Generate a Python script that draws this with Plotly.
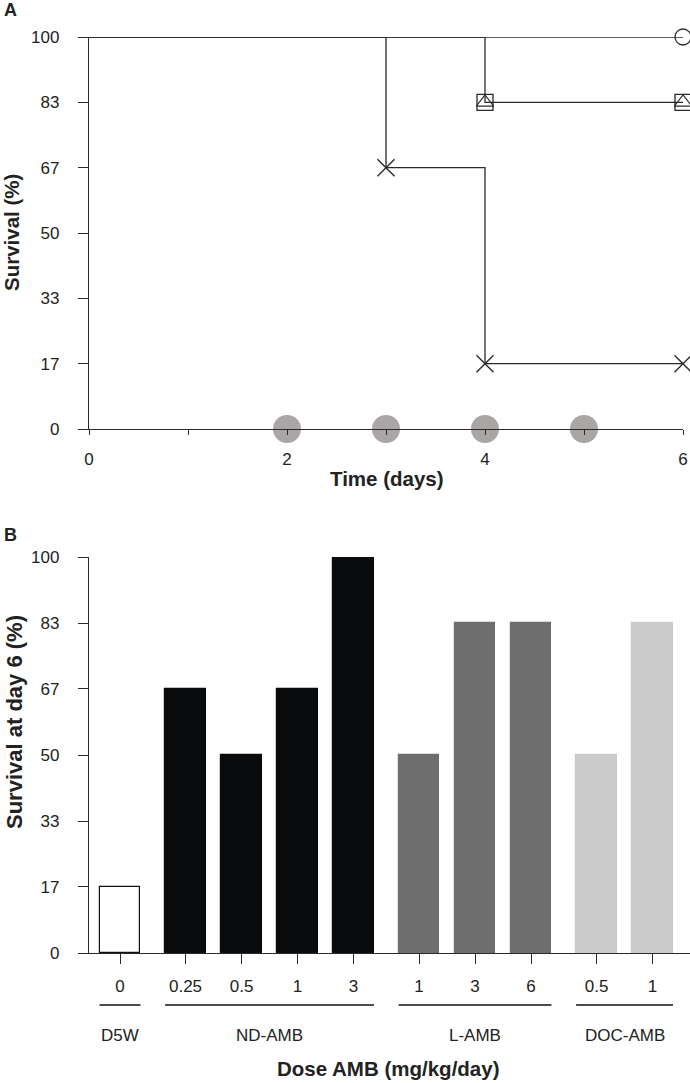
import plotly.graph_objects as go

# ---------------- data ----------------
# Panel A: Kaplan-Meier style survival (%)
days = [0, 1, 2, 3, 4, 5, 6]
surv_circle = [100, 100, 100, 100, 100, 100, 100]
surv_square = [100, 100, 100, 100, 83.33, 83.33, 83.33]
surv_cross = [100, 100, 100, 66.67, 16.67, 16.67, 16.67]
dosing_days = [2, 3, 4, 5]

pct_ticks = [0, 16.67, 33.33, 50, 66.67, 83.33, 100]
pct_labels = ["0", "17", "33", "50", "67", "83", "100"]

# Panel B: survival at day 6 by dose
groups = ["D5W", "ND-AMB", "L-AMB", "DOC-AMB"]
group_doses = [["0"], ["0.25", "0.5", "1", "3"], ["1", "3", "6"], ["0.5", "1"]]
group_survival = [[16.67], [66.67, 50, 66.67, 100], [50, 83.33, 83.33], [50, 83.33]]
group_colors = ["#ffffff", "#0a0b0d", "#6e6e6e", "#cbcbcb"]

# ---------------- layout helpers ----------------
W, H = 690, 1083
FONT = "Liberation Sans, Arial, Helvetica, sans-serif"
LINE = "#2a2a2a"


def px_x(p):
    return p / W


def px_y(p):
    return 1 - p / H


fig = go.Figure()

# ---------------- panel A ----------------
for surv in [surv_circle, surv_square, surv_cross]:
    fig.add_trace(go.Scatter(x=days, y=surv, mode="lines", line_shape="hv",
                             line=dict(color=LINE, width=1.3),
                             xaxis="x", yaxis="y", showlegend=False,
                             hoverinfo="skip"))


def event_points(surv):
    xs, ys = [], []
    for i in range(1, len(surv)):
        if surv[i] != surv[i - 1] or i == len(surv) - 1:
            xs.append(days[i])
            ys.append(surv[i])
    return xs, ys


# dosing markers
fig.add_trace(go.Scatter(x=dosing_days, y=[0] * len(dosing_days), mode="markers",
                         marker=dict(size=28, color="#aaa6a6", line=dict(width=0)),
                         xaxis="x", yaxis="y", showlegend=False, cliponaxis=False))


def open_marker(xs, ys, symbol, size, width):
    return go.Scatter(x=xs, y=ys, mode="markers",
                      marker=dict(symbol=symbol, size=size, color=LINE,
                                  line=dict(color=LINE, width=width)),
                      xaxis="x", yaxis="y", showlegend=False, cliponaxis=False)


cx, cy = event_points(surv_circle)
fig.add_trace(open_marker(cx, cy, "circle-open", 16, 1.3))
sx, sy = event_points(surv_square)
fig.add_trace(open_marker(sx, sy, "square-open", 16, 1.3))
fig.add_trace(open_marker(sx, sy, "triangle-up-open", 15, 1.1))
xx, xy = event_points(surv_cross)
fig.add_trace(open_marker(xx, xy, "x-thin-open", 17, 1.4))

# ---------------- panel B ----------------
GROUP_GAP = 0.17
positions, values, colors, labels, outlines = [], [], [], [], []
group_spans = []
idx = 0
for g, (doses, vals, col) in enumerate(zip(group_doses, group_survival, group_colors)):
    start = None
    for d, v in zip(doses, vals):
        p = idx + g * GROUP_GAP
        if start is None:
            start = p
        positions.append(p)
        values.append(v)
        colors.append(col)
        labels.append(d)
        outlines.append("#111111" if col == "#ffffff" else col)
        idx += 1
    group_spans.append((start, p))

BAR_W = 0.73
fig.add_trace(go.Bar(x=positions, y=values, width=BAR_W,
                     marker=dict(color=colors, line=dict(color=outlines, width=1.2)),
                     xaxis="x2", yaxis="y2", showlegend=False))

shapes = []
annotations = []
for name, (a, b) in zip(groups, group_spans):
    shapes.append(dict(type="line", xref="x2", yref="paper",
                       x0=a - BAR_W / 2, x1=b + BAR_W / 2,
                       y0=px_y(1005), y1=px_y(1005),
                       line=dict(color="#111111", width=1.3)))
    annotations.append(dict(text=name, xref="x2", yref="paper", x=(a + b) / 2,
                            y=px_y(1035), showarrow=False, xanchor="center",
                            yanchor="middle", font=dict(size=17, color="#222222",
                                                        family=FONT)))

# titles and panel letters
title_font = dict(size=20.5, color="#222222", family=FONT)
annotations += [
    dict(text="<b>Time (days)</b>", xref="paper", yref="paper", x=px_x(387),
         y=px_y(478), showarrow=False, xanchor="center", yanchor="middle", font=title_font),
    dict(text="<b>Survival (%)</b>", xref="paper", yref="paper", x=px_x(12),
         y=px_y(233), showarrow=False, textangle=-90, xanchor="center",
         yanchor="middle", font=title_font),
    dict(text="<b>Dose AMB (mg/kg/day)</b>", xref="paper", yref="paper", x=px_x(388),
         y=px_y(1068), showarrow=False, xanchor="center", yanchor="middle", font=title_font),
    dict(text="<b>Survival at day 6 (%)</b>", xref="paper", yref="paper", x=px_x(14),
         y=px_y(722), showarrow=False, textangle=-90, xanchor="center",
         yanchor="middle", font=dict(size=22, color="#222222", family=FONT)),
    dict(text="<b>A</b>", xref="paper", yref="paper", x=px_x(2), y=px_y(10),
         showarrow=False, xanchor="left", yanchor="middle",
         font=dict(size=18, color="#222222", family=FONT)),
    dict(text="<b>B</b>", xref="paper", yref="paper", x=px_x(2), y=px_y(535),
         showarrow=False, xanchor="left", yanchor="middle",
         font=dict(size=18, color="#222222", family=FONT)),
]

tick_font = dict(size=17, color="#222222", family=FONT)
axis_common = dict(showgrid=False, zeroline=False, showline=True, linecolor=LINE,
                   linewidth=1.3, ticks="outside", tickcolor=LINE, tickwidth=1.3,
                   tickfont=tick_font, layer="above traces", fixedrange=True,
                   automargin=False)

x0_px = 120
unit_px = 56
fig.update_layout(
    width=W, height=H, autosize=False,
    margin=dict(l=0, r=0, t=0, b=0, pad=0),
    paper_bgcolor="white", plot_bgcolor="white",
    font=dict(family=FONT),
    xaxis=dict(domain=[px_x(89), px_x(683)], range=[0, 6], anchor="y",
               tickmode="linear", tick0=0, dtick=2, ticklen=5,
               minor=dict(dtick=1, ticks="outside", ticklen=5, tickcolor=LINE,
                          tickwidth=1.3),
               ticklabelstandoff=9, **axis_common),
    yaxis=dict(domain=[px_y(429), px_y(37)], range=[0, 100], anchor="x",
               tickmode="array", tickvals=pct_ticks, ticktext=pct_labels,
               ticklen=10, ticklabelstandoff=15, **axis_common),
    xaxis2=dict(domain=[px_x(89), 1.0],
                range=[(89 - x0_px) / unit_px, (690 - x0_px) / unit_px],
                anchor="y2", tickmode="array", tickvals=positions, ticktext=labels,
                ticklen=10, ticklabelstandoff=7, **axis_common),
    yaxis2=dict(domain=[px_y(953), px_y(557)], range=[0, 100], anchor="x2",
                tickmode="array", tickvals=pct_ticks, ticktext=pct_labels,
                ticklen=10, ticklabelstandoff=15, **axis_common),
    shapes=shapes,
    annotations=annotations,
    bargap=0,
)

fig.write_html(
    "out.html",
    config={"displayModeBar": False},
    post_script="document.body.style.margin='0';document.body.style.overflow='hidden';",
)
